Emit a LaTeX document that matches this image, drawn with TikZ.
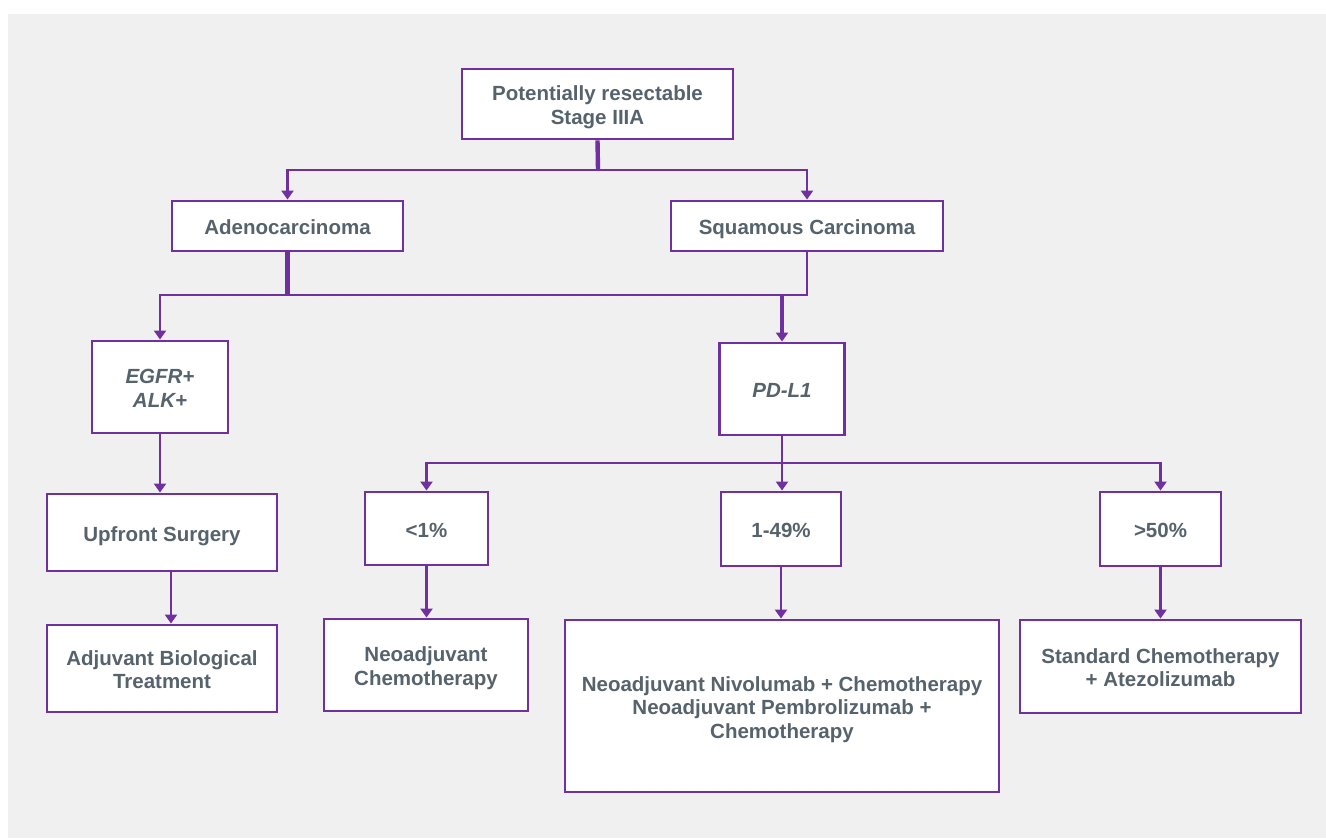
\documentclass[tikz,border=0pt]{standalone}
\usepackage{fontspec}
\setmainfont{Liberation Sans}
\usetikzlibrary{arrows.meta}
\definecolor{purp}{HTML}{7030A0}
\definecolor{txt}{HTML}{56626C}
\definecolor{bg}{HTML}{F0F0F0}
\newsavebox\lblbox
\newcommand{\lbl}[1]{\sbox\lblbox{\begin{tabular}{@{}c@{}}#1\end{tabular}}\raisebox{-4bp}[\ht\lblbox][\dp\lblbox]{\usebox\lblbox}}
\tikzset{
  box/.style={draw=purp, line width=2.9bp, fill=white, text=txt,
    font=\fontsize{20.5bp}{23.5bp}\selectfont\bfseries, inner sep=0pt},
  conn/.style={draw=purp, line width=2.8bp},
  thk/.style={draw=purp, line width=4.4bp},
  arr/.style={-{Triangle[width=12bp,length=9bp]}},
}
\begin{document}
\begin{tikzpicture}[x=1bp,y=-1bp]
\useasboundingbox (0,0) rectangle (1326,838);
\fill[white] (0,0) rectangle (1326,838);
\fill[bg] (8,14) rectangle (1326,838);

\node[box, minimum width=271bp, minimum height=70bp] (top) at (597.5,104) {\lbl{Potentially resectable\\Stage IIIA}};
\node[box, minimum width=231bp, minimum height=50bp] (adeno) at (287.5,226) {\lbl{Adenocarcinoma}};
\node[box, minimum width=272bp, minimum height=50bp] (squam) at (807,226) {\lbl{Squamous Carcinoma}};
\node[box, minimum width=136bp, minimum height=92bp] (egfr) at (160,387) {\lbl{\itshape EGFR+\\\itshape ALK+}};
\node[box, minimum width=125bp, minimum height=92bp] (pdl1) at (782,389) {\lbl{\itshape PD-L1}};
\node[box, minimum width=230bp, minimum height=77bp] (upfront) at (162,532.5) {\lbl{Upfront Surgery}};
\node[box, minimum width=230bp, minimum height=87bp] (adj) at (162,668.5) {\lbl{Adjuvant Biological\\Treatment}};
\node[box, minimum width=123bp, minimum height=73bp] (lt1) at (426.5,528.5) {\lbl{<1\%}};
\node[box, minimum width=120bp, minimum height=74bp] (mid) at (781,529) {\lbl{1-49\%}};
\node[box, minimum width=121bp, minimum height=74bp] (gt50) at (1160.5,529) {\lbl{>50\%}};
\node[box, minimum width=204bp, minimum height=92bp] (neo) at (426,665) {\lbl{Neoadjuvant\\Chemotherapy}};
\node[box, minimum width=434bp, minimum height=172bp] (big) at (782,706) {\lbl{Neoadjuvant Nivolumab + Chemotherapy\\Neoadjuvant Pembrolizumab +\\Chemotherapy}};
\node[box, minimum width=281bp, minimum height=93bp] (std) at (1160.5,666.5) {\lbl{Standard Chemotherapy\\+ Atezolizumab}};

\coordinate (j1) at (598,170);
\coordinate (j2) at (287.5,295);
\coordinate (j3) at (782,295);
\coordinate (j4) at (782,463);

% level 1
\draw[thk] (top.south) -- (j1);
\draw[conn, arr] (j1) -| (adeno.north);
\draw[conn, arr] (j1) -| (squam.north);

% level 2
\draw[thk] (adeno.south) -- (j2);
\draw[conn, arr] (j2) -| (egfr.north);
\draw[conn] (squam.south) |- (j2);
\draw[thk, arr] (j3) -- (pdl1.north);

% level 3
\draw[conn] (pdl1.south) -- (j4);
\draw[conn, arr] (j4) -| (lt1.north);
\draw[conn, arr] (j4) -| (gt50.north);
\draw[conn, arr] (j4) -- (j4 |- mid.north);

% vertical chains
\draw[conn, arr] (egfr.south) -- (egfr.south |- upfront.north);
\draw[conn, arr] ([xshift=9bp]upfront.south) -- ([xshift=9bp]adj.north);
\draw[conn, arr] (lt1.south) -- (lt1.south |- neo.north);
\draw[conn, arr] (mid.south) -- (mid.south |- big.north);
\draw[conn, arr] (gt50.south) -- (gt50.south |- std.north);
\end{tikzpicture}
\end{document}
